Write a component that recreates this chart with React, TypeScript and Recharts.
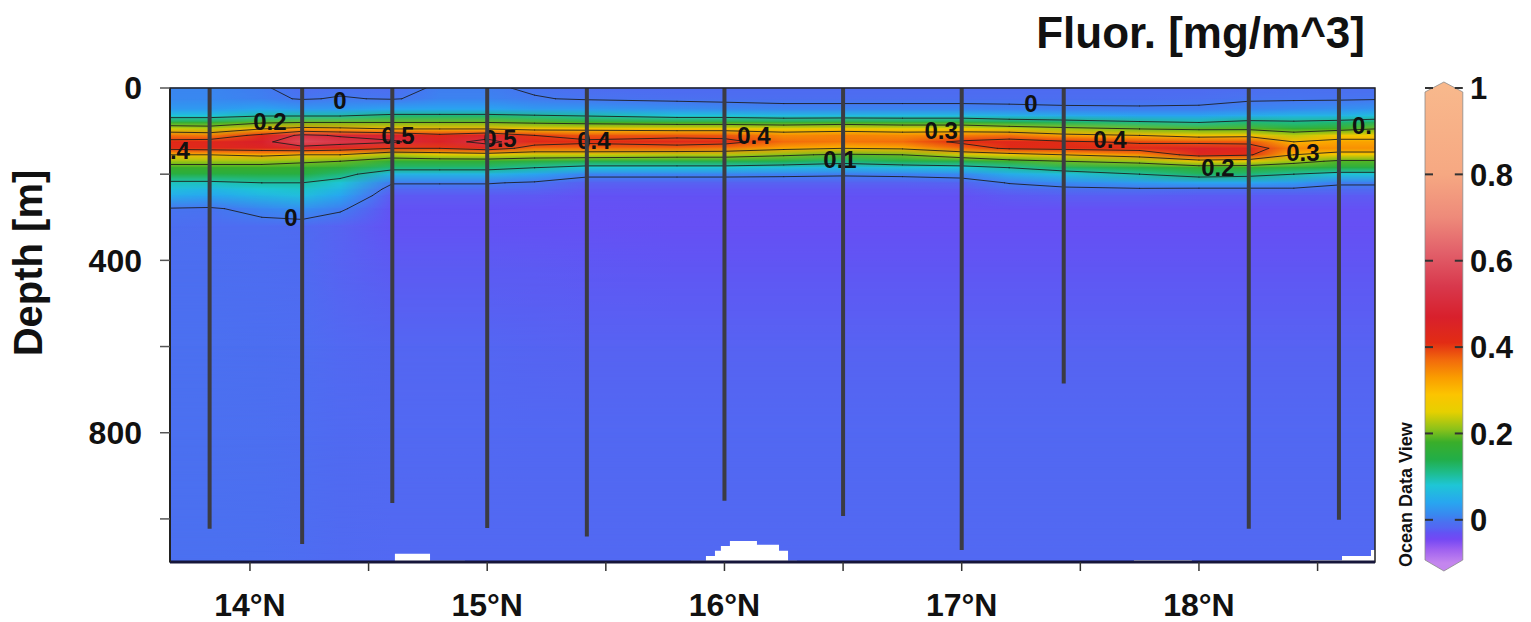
import React from 'react'
import {
  ComposedChart,
  XAxis,
  YAxis,
  Line,
  Area,
  Bar,
  Scatter,
  ReferenceArea,
  ReferenceLine,
} from 'recharts'

const LAT_MIN = 13.663
const LAT_MAX = 18.742
const DEPTH_MAX = 1100

// depth levels (m) of the gridded section
const depths = [0, 25, 50, 65, 80, 95, 110, 125, 140, 155, 170, 185, 200, 220, 235, 250, 280, 320, 400, 600, 800, 1100]

// columns of the section (°N)
const gridLats = [13.663, 13.83, 14.05, 14.22, 14.38, 14.6, 14.8, 15.0, 15.2, 15.42, 15.8, 16.0, 16.25, 16.5, 16.75, 17.0, 17.2, 17.43, 17.75, 18.0, 18.21, 18.4, 18.59, 18.742]

// fluorescence [mg/m^3], one profile per column, values at `depths`
const fluor = [
  [0.01, 0.012, 0.03, 0.08, 0.16, 0.24, 0.36, 0.42, 0.42, 0.3, 0.22, 0.18, 0.15, 0.09, 0.07, 0.05, -0.002, -0.008, -0.008, -0.006, -0.006, -0.006],
  [0.01, 0.012, 0.03, 0.08, 0.16, 0.23, 0.35, 0.43, 0.43, 0.3, 0.22, 0.18, 0.15, 0.09, 0.06, 0.04, -0.004, -0.01, -0.008, -0.006, -0.006, -0.006],
  [0.003, 0.006, 0.04, 0.1, 0.19, 0.3, 0.42, 0.47, 0.44, 0.32, 0.22, 0.18, 0.15, 0.1, 0.08, 0.06, 0.01, -0.01, -0.01, -0.008, -0.007, -0.007],
  [-0.01, -0.002, 0.03, 0.1, 0.2, 0.33, 0.52, 0.58, 0.46, 0.3, 0.21, 0.17, 0.15, 0.1, 0.085, 0.07, 0.02, -0.012, -0.012, -0.01, -0.01, -0.01],
  [-0.006, 0.002, 0.03, 0.1, 0.2, 0.32, 0.49, 0.54, 0.44, 0.3, 0.2, 0.16, 0.12, 0.08, 0.06, 0.04, 0.005, -0.02, -0.02, -0.015, -0.013, -0.013],
  [-0.01, -0.002, 0.04, 0.12, 0.2, 0.3, 0.47, 0.51, 0.4, 0.23, 0.17, 0.12, 0.06, 0.003, -0.015, -0.025, -0.03, -0.03, -0.025, -0.018, -0.015, -0.015],
  [0.004, 0.008, 0.04, 0.12, 0.2, 0.3, 0.42, 0.46, 0.4, 0.25, 0.17, 0.12, 0.06, 0.003, -0.015, -0.025, -0.03, -0.03, -0.025, -0.018, -0.015, -0.015],
  [0.004, 0.008, 0.04, 0.12, 0.2, 0.3, 0.46, 0.53, 0.44, 0.26, 0.17, 0.12, 0.06, 0.003, -0.015, -0.025, -0.03, -0.03, -0.025, -0.018, -0.015, -0.015],
  [-0.004, 0.002, 0.03, 0.11, 0.19, 0.28, 0.4, 0.43, 0.37, 0.24, 0.16, 0.1, 0.04, -0.005, -0.018, -0.026, -0.031, -0.031, -0.026, -0.019, -0.016, -0.015],
  [-0.01, -0.003, 0.03, 0.1, 0.18, 0.28, 0.38, 0.41, 0.37, 0.24, 0.15, 0.08, 0.01, -0.02, -0.026, -0.03, -0.032, -0.032, -0.027, -0.02, -0.016, -0.015],
  [-0.012, -0.006, 0.02, 0.08, 0.17, 0.27, 0.38, 0.43, 0.37, 0.23, 0.15, 0.08, 0.01, -0.02, -0.027, -0.03, -0.033, -0.033, -0.028, -0.02, -0.016, -0.015],
  [-0.012, -0.007, 0.015, 0.08, 0.17, 0.27, 0.38, 0.42, 0.36, 0.23, 0.15, 0.08, 0.01, -0.02, -0.027, -0.03, -0.033, -0.033, -0.028, -0.02, -0.016, -0.015],
  [-0.012, -0.008, 0.01, 0.07, 0.16, 0.26, 0.34, 0.37, 0.32, 0.21, 0.14, 0.07, 0.008, -0.02, -0.027, -0.03, -0.033, -0.033, -0.028, -0.02, -0.016, -0.015],
  [-0.012, -0.008, 0.01, 0.07, 0.17, 0.27, 0.35, 0.36, 0.3, 0.19, 0.12, 0.06, 0.005, -0.02, -0.027, -0.03, -0.033, -0.033, -0.028, -0.02, -0.016, -0.015],
  [-0.012, -0.008, 0.01, 0.07, 0.16, 0.26, 0.34, 0.37, 0.31, 0.2, 0.14, 0.07, 0.008, -0.02, -0.027, -0.03, -0.033, -0.033, -0.028, -0.02, -0.016, -0.015],
  [-0.012, -0.008, 0.01, 0.07, 0.16, 0.26, 0.35, 0.41, 0.37, 0.24, 0.15, 0.08, 0.015, -0.018, -0.026, -0.03, -0.033, -0.033, -0.028, -0.02, -0.016, -0.015],
  [-0.012, -0.008, 0.008, 0.06, 0.14, 0.24, 0.36, 0.43, 0.41, 0.27, 0.18, 0.1, 0.05, 0.002, -0.015, -0.025, -0.032, -0.033, -0.028, -0.02, -0.016, -0.015],
  [-0.012, -0.008, 0.005, 0.05, 0.13, 0.22, 0.32, 0.41, 0.42, 0.3, 0.2, 0.13, 0.07, 0.015, -0.008, -0.022, -0.032, -0.033, -0.028, -0.02, -0.016, -0.015],
  [-0.012, -0.008, 0.004, 0.04, 0.11, 0.2, 0.3, 0.39, 0.43, 0.34, 0.22, 0.15, 0.1, 0.03, -0.005, -0.022, -0.032, -0.033, -0.028, -0.02, -0.016, -0.015],
  [-0.012, -0.006, 0.004, 0.04, 0.1, 0.19, 0.27, 0.38, 0.46, 0.43, 0.27, 0.17, 0.13, 0.04, -0.008, -0.024, -0.032, -0.033, -0.028, -0.02, -0.016, -0.015],
  [-0.01, -0.003, 0.01, 0.05, 0.12, 0.19, 0.28, 0.38, 0.44, 0.41, 0.26, 0.17, 0.12, 0.04, -0.008, -0.024, -0.032, -0.033, -0.028, -0.02, -0.016, -0.015],
  [-0.006, -0.003, 0.015, 0.06, 0.11, 0.17, 0.23, 0.3, 0.35, 0.3, 0.22, 0.16, 0.1, 0.03, -0.006, -0.024, -0.032, -0.033, -0.028, -0.02, -0.016, -0.015],
  [-0.008, -0.003, 0.02, 0.06, 0.12, 0.18, 0.27, 0.32, 0.34, 0.27, 0.19, 0.15, 0.08, 0.005, -0.01, -0.024, -0.032, -0.033, -0.028, -0.02, -0.016, -0.015],
  [-0.008, -0.002, 0.025, 0.07, 0.13, 0.2, 0.27, 0.32, 0.34, 0.27, 0.19, 0.15, 0.08, 0.005, -0.01, -0.024, -0.032, -0.033, -0.028, -0.02, -0.016, -0.015],
]

// CTD stations and the depth each cast reached
const stationLats = [13.83, 14.22, 14.6, 15.0, 15.42, 16.0, 16.5, 17.0, 17.43, 18.21, 18.59]
const stationBottoms = [1023, 1058, 963, 1021, 1041, 958, 993, 1072, 686, 1023, 1002]

// blanked (no data) bottom cells
const seafloor = [
  { lat: 13.663, depth: 1100 },
  { lat: 14.611, depth: 1081 },
  { lat: 14.759, depth: 1097 },
  { lat: 14.906, depth: 1100 },
  { lat: 15.859, depth: 1097 },
  { lat: 15.922, depth: 1086 },
  { lat: 15.96, depth: 1074 },
  { lat: 15.985, depth: 1063 },
  { lat: 16.023, depth: 1051 },
  { lat: 16.137, depth: 1060 },
  { lat: 16.23, depth: 1074 },
  { lat: 16.268, depth: 1097 },
  { lat: 16.306, depth: 1100 },
  { lat: 17.726, depth: 1096 },
  { lat: 17.97, depth: 1100 },
  { lat: 18.468, depth: 1096 },
  { lat: 18.603, depth: 1086 },
  { lat: 18.725, depth: 1072 },
  { lat: 18.742, depth: 1072 },
]

const contourLevels = [0, 0.1, 0.2, 0.3, 0.4, 0.5]

const labelLats = [13.705, 14.084, 14.379, 14.624, 15.054, 15.45, 16.124, 16.487, 16.913, 17.292, 17.625, 18.08, 18.438, 18.687, 14.173]
const labelDepths = [144, 77, 28, 109, 116, 121, 109, 165, 98, 35, 119, 184, 149, 86, 300]
const labelTexts = ['.4', '0.2', '0', '0.5', '0.5', '0.4', '0.4', '0.1', '0.3', '0', '0.4', '0.2', '0.3', '0.', '0']

const latTicks = [14, 14.5, 15, 15.5, 16, 16.5, 17, 17.5, 18, 18.5]
const depthTicks = [0, 200, 400, 600, 800, 1000]
const colorTicks = [0, 0.2, 0.4, 0.6, 0.8, 1]
const colorRange = [{ name: 'Fluor', range: [-0.1, 1] }]

// ODV style colour palette
const CMAP: [number, string][] = [
  [-0.1, '#c486ee'],
  [-0.07, '#a062f0'],
  [-0.045, '#7448f4'],
  [-0.03, '#6352f4'],
  [-0.018, '#5466f2'],
  [-0.005, '#4a71f0'],
  [0.01, '#3a86f0'],
  [0.04, '#28a6f0'],
  [0.08, '#1ec6d6'],
  [0.11, '#1ebc8a'],
  [0.14, '#22ae48'],
  [0.18, '#3aae2a'],
  [0.21, '#8cc21a'],
  [0.25, '#e6d000'],
  [0.29, '#fcc400'],
  [0.33, '#fa9c00'],
  [0.37, '#f26a0c'],
  [0.41, '#e22c14'],
  [0.47, '#d8202c'],
  [0.54, '#d8384c'],
  [0.62, '#e2606a'],
  [0.7, '#ee8a7a'],
  [0.8, '#f6a882'],
  [1.0, '#f8b88c'],
]

const FONT = "'Liberation Sans', Arial, sans-serif"

function hexRgb(h: string) {
  return [1, 3, 5].map((k) => parseInt(h.slice(k, k + 2), 16))
}

function colorFor(v: number) {
  if (v <= CMAP[0][0]) return CMAP[0][1]
  for (let k = 1; k < CMAP.length; k++) {
    const [v1, c1] = CMAP[k]
    const [v0, c0] = CMAP[k - 1]
    if (v <= v1) {
      const t = (v - v0) / (v1 - v0)
      const a = hexRgb(c0)
      const b = hexRgb(c1)
      return `rgb(${a.map((x, i) => Math.round(x + (b[i] - x) * t)).join(',')})`
    }
  }
  return CMAP[CMAP.length - 1][1]
}

type Pt = { lat: number; depth: number | null }

// marching squares on the grid -> list of segments separated by null points
function contour(level: number): Pt[] {
  const out: Pt[] = []
  for (let j = 0; j < gridLats.length - 1; j++) {
    for (let i = 0; i < depths.length - 1; i++) {
      const x0 = gridLats[j], x1 = gridLats[j + 1]
      const y0 = depths[i], y1 = depths[i + 1]
      const a = fluor[j][i], b = fluor[j + 1][i], c = fluor[j + 1][i + 1], d = fluor[j][i + 1]
      const cross = (p: number, q: number) => (p >= level) !== (q >= level)
      const at = (p: number, q: number) => (level - p) / (q - p)
      const top = cross(a, b) ? { lat: x0 + at(a, b) * (x1 - x0), depth: y0 } : null
      const right = cross(b, c) ? { lat: x1, depth: y0 + at(b, c) * (y1 - y0) } : null
      const bottom = cross(d, c) ? { lat: x0 + at(d, c) * (x1 - x0), depth: y1 } : null
      const left = cross(a, d) ? { lat: x0, depth: y0 + at(a, d) * (y1 - y0) } : null
      const pts = [top, right, bottom, left].filter(Boolean) as Pt[]
      let segs: Pt[][] = []
      if (pts.length === 2) segs = [pts]
      else if (pts.length === 4) {
        const center = (a + b + c + d) / 4 >= level
        if ((a >= level) === center) segs = [[top!, right!], [bottom!, left!]]
        else segs = [[left!, top!], [right!, bottom!]]
      }
      segs.forEach(([p, q]) => out.push(p, q, { lat: q.lat, depth: null }))
    }
  }
  return out
}

const contours = contourLevels.map((lv) => ({ level: lv, data: contour(lv) }))
const labels = labelTexts.map((text, i) => ({ lat: labelLats[i], depth: labelDepths[i], text }))

function rowShape(id: string, masked: boolean) {
  return (p: any) => (
    <rect
      x={p.x}
      y={p.y - 0.5}
      width={p.width}
      height={p.height + 1}
      fill={`url(#${id})`}
      mask={masked ? 'url(#fade)' : undefined}
    />
  )
}

function LabelShape(p: any) {
  return (
    <text
      x={p.cx}
      y={p.cy}
      dy="0.36em"
      textAnchor="middle"
      fontSize={24}
      fontWeight={700}
      fill="#111"
      fontFamily={FONT}
    >
      {p.payload.text}
    </text>
  )
}

// colour bar with pointed ends; tick dashes sit on both inner edges
function ColorBarShape(p: any) {
  const { x, y, width: w, height: h } = p
  const top = y
  const bot = y + h
  const [lo, hi] = colorRange[0].range
  const yOf = (v: number) => bot - ((v - lo) / (hi - lo)) * h
  return (
    <g>
      <defs>
        <linearGradient id="cbar" gradientUnits="userSpaceOnUse" x1={0} y1={bot} x2={0} y2={top}>
          {CMAP.map(([v, c]) => (
            <stop key={v} offset={(v - lo) / (hi - lo)} stopColor={c} />
          ))}
        </linearGradient>
      </defs>
      <polygon
        points={`${x},${top + 4} ${x + w / 2},${top - 6} ${x + w},${top + 4} ${x + w},${bot - 3} ${x + w / 2},${bot + 8} ${x},${bot - 3}`}
        fill="url(#cbar)"
        stroke="#8a8a8a"
        strokeWidth={0.8}
      />
      {colorTicks.map((v) => (
        <g key={v}>
          <line x1={x} x2={x + 8} y1={yOf(v)} y2={yOf(v)} stroke="#333" strokeWidth={2} />
          <line x1={x + w - 8} x2={x + w} y1={yOf(v)} y2={yOf(v)} stroke="#333" strokeWidth={2} />
        </g>
      ))}
    </g>
  )
}

function ColorTick(p: any) {
  const { x, y, payload } = p
  return (
    <text x={x} y={y} dy="0.36em" fontSize={31} fontWeight={700} fill="#111" fontFamily={FONT}>
      {payload.value}
    </text>
  )
}

const tickFont = { fontSize: 32, fontWeight: 700, fill: '#111', fontFamily: FONT }

export default function App() {
  const span = LAT_MAX - LAT_MIN
  return (
    <div
      style={{
        position: 'absolute',
        left: 0,
        top: 0,
        width: 1531,
        height: 622,
        background: '#fff',
        overflow: 'hidden',
        fontFamily: FONT,
      }}
    >
      <svg width={0} height={0} style={{ position: 'absolute' }}>
        <defs>
          {depths.map((_, i) => (
            <linearGradient key={i} id={`row-${i}`} x1="0" y1="0" x2="1" y2="0">
              {gridLats.map((lat, j) => (
                <stop key={j} offset={(lat - LAT_MIN) / span} stopColor={colorFor(fluor[j][i])} />
              ))}
            </linearGradient>
          ))}
          <linearGradient id="fadeGrad" x1="0" y1="0" x2="0" y2="1">
            <stop offset="0" stopColor="#fff" stopOpacity={0} />
            <stop offset="1" stopColor="#fff" stopOpacity={1} />
          </linearGradient>
          <mask id="fade" maskContentUnits="objectBoundingBox">
            <rect x={0} y={0} width={1} height={1} fill="url(#fadeGrad)" />
          </mask>
        </defs>
      </svg>

      <div style={{ position: 'absolute', left: 0, top: 0 }}>
        <ComposedChart width={1531} height={622} margin={{ top: 88, right: 156, bottom: 0, left: 90 }}>
          <XAxis
            type="number"
            dataKey="lat"
            domain={[LAT_MIN, LAT_MAX]}
            allowDataOverflow
            ticks={latTicks}
            interval={0}
            tickFormatter={(v: number) => (Number.isInteger(v) ? `${v}°N` : '')}
            tick={tickFont}
            tickSize={9}
            tickMargin={22}
            height={60}
            axisLine={{ stroke: '#16163a', strokeWidth: 3 }}
            tickLine={{ stroke: '#333', strokeWidth: 1.5 }}
          />
          <YAxis
            type="number"
            dataKey="depth"
            domain={[0, DEPTH_MAX]}
            reversed
            allowDataOverflow
            ticks={depthTicks}
            interval={0}
            tickFormatter={(v: number) => (v % 400 === 0 ? String(v) : '')}
            tick={tickFont}
            tickSize={10}
            tickMargin={18}
            width={80}
            axisLine={{ stroke: '#222', strokeWidth: 2 }}
            tickLine={{ stroke: '#555', strokeWidth: 1.5 }}
          />

          {depths.slice(0, -1).map((d, i) => (
            <ReferenceArea
              key={`b${i}`}
              x1={LAT_MIN}
              x2={LAT_MAX}
              y1={d}
              y2={depths[i + 1]}
              shape={rowShape(`row-${i}`, false)}
              zIndex={1}
            />
          ))}
          {depths.slice(0, -1).map((d, i) => (
            <ReferenceArea
              key={`o${i}`}
              x1={LAT_MIN}
              x2={LAT_MAX}
              y1={d}
              y2={depths[i + 1]}
              shape={rowShape(`row-${i + 1}`, true)}
              zIndex={1}
            />
          ))}

          {contours.map((c) => (
            <Line
              key={c.level}
              data={c.data}
              dataKey="depth"
              type="linear"
              stroke="#1b1b1b"
              strokeOpacity={0.85}
              strokeWidth={1}
              strokeLinecap="round"
              dot={false}
              activeDot={false}
              connectNulls={false}
              isAnimationActive={false}
              zIndex={2}
            />
          ))}

          <Scatter data={labels} shape={LabelShape} isAnimationActive={false} zIndex={3} />

          <Area
            data={seafloor}
            dataKey="depth"
            type="stepAfter"
            baseValue={DEPTH_MAX}
            fill="#fff"
            fillOpacity={1}
            stroke="none"
            isAnimationActive={false}
            activeDot={false}
            zIndex={4}
          />

          {stationLats.map((lat, i) => (
            <ReferenceLine
              key={lat}
              segment={[
                { x: lat, y: 0 },
                { x: lat, y: stationBottoms[i] },
              ]}
              stroke="#3b3b43"
              strokeWidth={4}
              zIndex={5}
            />
          ))}

          <ReferenceArea
            x1={LAT_MIN}
            x2={LAT_MAX}
            y1={0}
            y2={DEPTH_MAX}
            fill="none"
            stroke="#222"
            strokeWidth={1.5}
            ifOverflow="visible"
            zIndex={6}
          />
        </ComposedChart>
      </div>

      <div style={{ position: 'absolute', left: 1380, top: 0 }}>
        <ComposedChart
          width={150}
          height={622}
          data={colorRange}
          margin={{ top: 88, right: 0, bottom: 59, left: 43 }}
          barCategoryGap={0}
        >
          <XAxis type="category" dataKey="name" hide />
          <YAxis
            type="number"
            orientation="right"
            domain={[-0.1, 1]}
            ticks={colorTicks}
            interval={0}
            tick={ColorTick}
            tickSize={0}
            tickMargin={5}
            axisLine={false}
            tickLine={false}
            width={65}
          />
          <Bar dataKey="range" barSize={42} shape={ColorBarShape} isAnimationActive={false} />
        </ComposedChart>
      </div>

      <svg
        width={1531}
        height={622}
        style={{ position: 'absolute', left: 0, top: 0, pointerEvents: 'none' }}
        fontFamily={FONT}
      >
        <text x={1365} y={48} textAnchor="end" fontSize={44} fontWeight={700} fill="#111">
          Fluor. [mg/m^3]
        </text>
        <text
          transform="translate(42,263) rotate(-90)"
          textAnchor="middle"
          fontSize={40}
          fontWeight={700}
          fill="#111"
        >
          Depth [m]
        </text>
        <text transform="translate(1412,567) rotate(-90)" fontSize={18} fontWeight={700} fill="#111">
          Ocean Data View
        </text>
      </svg>
    </div>
  )
}
